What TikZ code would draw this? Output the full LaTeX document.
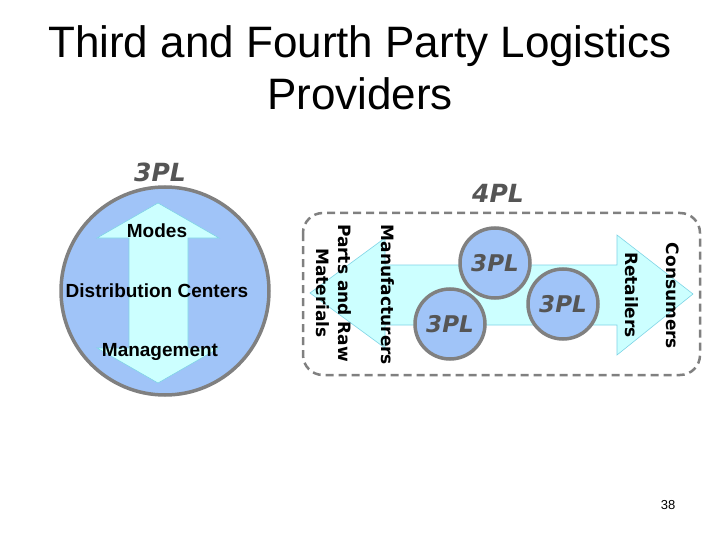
\documentclass[tikz,border=0pt]{standalone}
\usepackage{fontspec}
\setmainfont{Liberation Sans}
\newfontfamily\dvs{DejaVu Sans}
\begin{document}
\begin{tikzpicture}[x=1pt,y=-1pt,
  bluecirc/.style={circle, draw=circgray, line width=3.5pt, fill=circblue, inner sep=0pt},
  plab/.style={text=labgray, font=\dvs\bfseries\itshape\fontsize{23}{26}\selectfont},
  arr/.style={fill=arrcyan, draw=arredge, line width=0.6pt},
  vlab/.style={rotate=-90, align=center, text=black, font=\dvs\bfseries\fontsize{17}{22}\selectfont},
  inlab/.style={text=black, font=\bfseries\fontsize{19}{22}\selectfont}]
\definecolor{circblue}{HTML}{A0C4F8}
\definecolor{circgray}{HTML}{808080}
\definecolor{labgray}{HTML}{555555}
\definecolor{arrcyan}{HTML}{CCFFFF}
\definecolor{arredge}{HTML}{7FD4E6}
\useasboundingbox (0,0) rectangle (720,540);
\fill[white] (0,0) rectangle (720,540);
% title
\node[anchor=base, font=\fontsize{44}{50}\selectfont] (t1) at (360,58) {Third and Fourth Party Logistics};
\node[anchor=base, font=\fontsize{44}{50}\selectfont] (t2) at (360,110) {Providers};
% left 3PL
\node[plab, font=\dvs\bfseries\itshape\fontsize{25}{28}\selectfont] (l3pl) at (160,172) {3PL};
\node[bluecirc, minimum size=208pt] (bigc) at (165,291) {};
\path[arr] (158,203) -- (219,238) -- (188,238) -- (188,348) -- (219,348) -- (158,383)
  -- (97,348) -- (129,348) -- (129,238) -- (97,238) -- cycle;
\node[inlab] (modes) at (157,231) {Modes};
\node[inlab] (dc) at (157,291) {Distribution Centers};
\node[inlab] (mgmt) at (160,352) {Management};
% 4PL
\node[plab, font=\dvs\bfseries\itshape\fontsize{25}{28}\selectfont] (l4pl) at (498,193) {4PL};
\draw[circgray, line width=2.5pt, dash pattern=on 8pt off 5pt, rounded corners=20pt] (303,213) rectangle (700,375);
\path[arr] (310,293) -- (385,238) -- (385,265) -- (617,265) -- (617,235) -- (693,294)
  -- (617,355) -- (617,325) -- (385,325) -- (385,348) -- cycle;
\node[vlab] (manu) at (388,295) {Manufacturers};
\node[vlab] (parts) at (334,293) {Parts and Raw\\Materials};
\node[vlab] (ret) at (632,295) {Retailers};
\node[vlab] (cons) at (673,296) {Consumers};
\node[bluecirc, minimum size=70pt] (c1) at (495,263) {};
\node[plab] at (c1) {3PL};
\node[bluecirc, minimum size=70pt] (c2) at (450,324) {};
\node[plab] at (c2) {3PL};
\node[bluecirc, minimum size=70pt] (c3) at (563,304) {};
\node[plab] at (c3) {3PL};
% page number
\node[font=\fontsize{13}{15}\selectfont] (pg) at (668,505) {38};
\end{tikzpicture}
\end{document}
